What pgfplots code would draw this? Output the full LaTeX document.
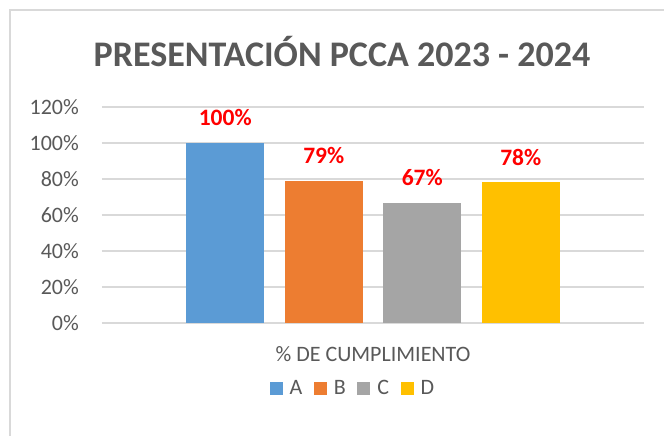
\documentclass[border=0pt]{standalone}
\usepackage{pgfplots}
\pgfplotsset{compat=1.18}
\usepackage{fontspec}
\setmainfont{Carlito}
\definecolor{cA}{HTML}{5B9BD5}
\definecolor{cB}{HTML}{ED7D31}
\definecolor{cC}{HTML}{A5A5A5}
\definecolor{cD}{HTML}{FFC000}
\definecolor{txt}{HTML}{595959}
\definecolor{grd}{HTML}{D9D9D9}
\begin{document}
\begin{tikzpicture}
\useasboundingbox (0pt,0pt) rectangle (664pt,436pt);
\fill[white] (0pt,0pt) rectangle (664pt,436pt);
\draw[grd,line width=1.5pt] (10pt,0pt) -- (10pt,426pt) -- (664pt,426pt);
\node[font=\fontsize{36}{40}\selectfont\bfseries,text=txt] at (342pt,384pt) {PRESENTACIÓN PCCA 2023 - 2024};
\begin{axis}[
  at={(102pt,113pt)}, anchor=south west,
  scale only axis, width=542pt, height=216pt,
  ybar=20.5pt, bar width=78pt,
  xmin=-1, xmax=1, ymin=0, ymax=1.2,
  xtick={0}, xticklabels={\% DE CUMPLIMIENTO},
  ytick={0,0.2,0.4,0.6,0.8,1.0,1.2},
  yticklabels={0\%,20\%,40\%,60\%,80\%,100\%,120\%},
  major tick length=0pt,
  axis line style={draw=none},
  ymajorgrids, major grid style={grd,line width=1.3pt},
  yticklabel style={font=\fontsize{22}{24}\selectfont,text=txt,anchor=east,inner sep=0pt,xshift=-23pt},
  xticklabel style={font=\fontsize{22}{24}\selectfont,text=txt,anchor=base,inner sep=0pt,yshift=-39pt},
  point meta=explicit symbolic,
  nodes near coords=\pgfplotspointmeta,
  every node near coord/.append style={font=\fontsize{23.5}{26}\selectfont\bfseries,text=red,anchor=base,inner sep=0pt,yshift=17pt},
  legend columns=4,
  legend image code/.code={\fill[#1] (0pt,-6.5pt) rectangle (13pt,6.5pt);},
  legend style={draw=none,fill=none,at={(0.463,-0.301)},anchor=center,
    font=\fontsize{22}{24}\selectfont,text=txt,inner sep=0pt,
    column sep=5pt,
    /tikz/every even column/.append style={column sep=9.5pt}},
  clip=false,
]
\addplot[fill=cA,draw=none] coordinates {(0,1.00) [100\%]};
\addplot[fill=cB,draw=none] coordinates {(0,0.79) [79\%]};
\addplot[fill=cC,draw=none] coordinates {(0,0.667) [67\%]};
\addplot[fill=cD,draw=none] coordinates {(0,0.783) [78\%]};
\legend{A,B,C,D}
\end{axis}
\end{tikzpicture}
\end{document}
